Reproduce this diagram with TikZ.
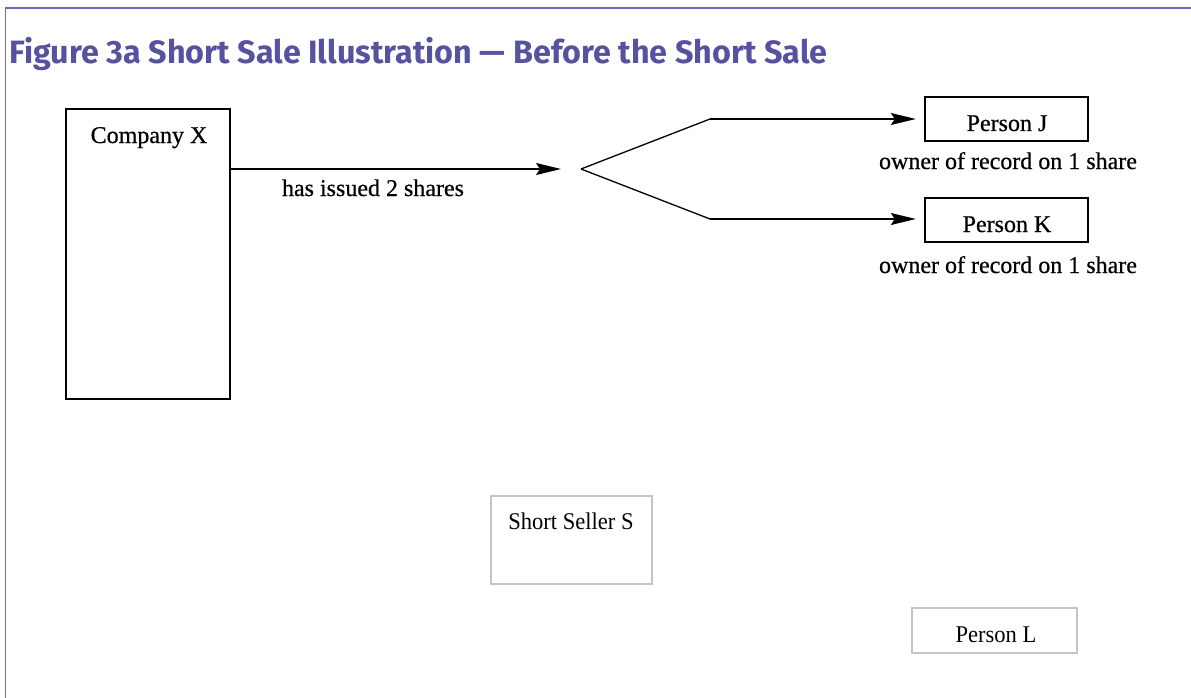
\documentclass[tikz,border=0pt]{standalone}
\usepackage{fontspec}
\setmainfont{Liberation Serif}
\newfontfamily\titlefont{Fira Sans}
\newfontfamily\upfont[FakeBold=0.6]{Liberation Serif}
\newfontfamily\condfont[FakeStretch=0.94]{Liberation Serif}
\usetikzlibrary{arrows.meta}
\definecolor{framecol}{RGB}{110,106,180}
\definecolor{titlecol}{RGB}{85,82,160}
\definecolor{greybox}{RGB}{196,196,196}
\tikzset{
  blackbox/.style={draw=black, line width=2.4pt, inner sep=0pt},
  greyboxst/.style={draw=greybox, line width=2.6pt, inner sep=0pt},
  uptext/.style={font=\upfont\fontsize{24}{27}\selectfont, inner sep=0pt, anchor=base},
  lowtext/.style={font=\condfont\fontsize{24}{27}\selectfont, inner sep=0pt, anchor=base},
  conn/.style={line width=1.3pt},
  arr/.style={conn, -{Stealth[length=25pt, width=12pt, inset=4pt]}},
}
\begin{document}
\begin{tikzpicture}[x=1pt,y=-1pt]
\useasboundingbox (0,0) rectangle (1191,698);
% frame
\draw[framecol, line width=1.6pt] (5.5,698) -- (5.5,8) -- (1191,8);
% title
\node[anchor=base west, inner sep=0pt, text=titlecol,
      font=\titlefont\bfseries\fontsize{32.3}{35}\selectfont] (title) at (9,64)
  {Figure 3a Short Sale Illustration — Before the Short Sale};
% Company X
\node[blackbox, minimum width=164pt, minimum height=290pt] (cx) at (148,254) {};
\node[uptext] (cxt) at (149,143) {Company X};
% fork
\coordinate (fin) at (561,169);
\coordinate (fk) at (581,169);
\coordinate (ju) at (710,119);
\coordinate (kd) at (710,219);
\draw[arr] (cx.east |- fin) -- (fin);
\node[uptext] (issued) at (373,196) {has issued 2 shares};
\draw[conn] (fk) -- (ju);
\draw[conn] (fk) -- (kd);
% Person J / K
\node[blackbox, minimum width=163pt, minimum height=44pt] (pj) at (1006.5,119) {};
\node[uptext] (pjt) at (1007,131) {Person J};
\node[blackbox, minimum width=163pt, minimum height=44pt] (pk) at (1006.5,220) {};
\node[uptext] (pkt) at (1007,232) {Person K};
\draw[arr, shorten >=8pt] (ju) -- (pj.west |- ju);
\draw[arr, shorten >=8pt] (kd) -- (pk.west |- kd);
\node[uptext] (ownj) at (1008,169) {owner of record on 1 share};
\node[uptext] (ownk) at (1008,273) {owner of record on 1 share};
% lower boxes
\node[greyboxst, minimum width=161pt, minimum height=88pt] (ss) at (571.5,540) {};
\node[lowtext] (sst) at (571,529) {Short Seller S};
\node[greyboxst, minimum width=165pt, minimum height=45pt] (pl) at (994.5,630.5) {};
\node[lowtext] (plt) at (996,642) {Person L};
\end{tikzpicture}
\end{document}
